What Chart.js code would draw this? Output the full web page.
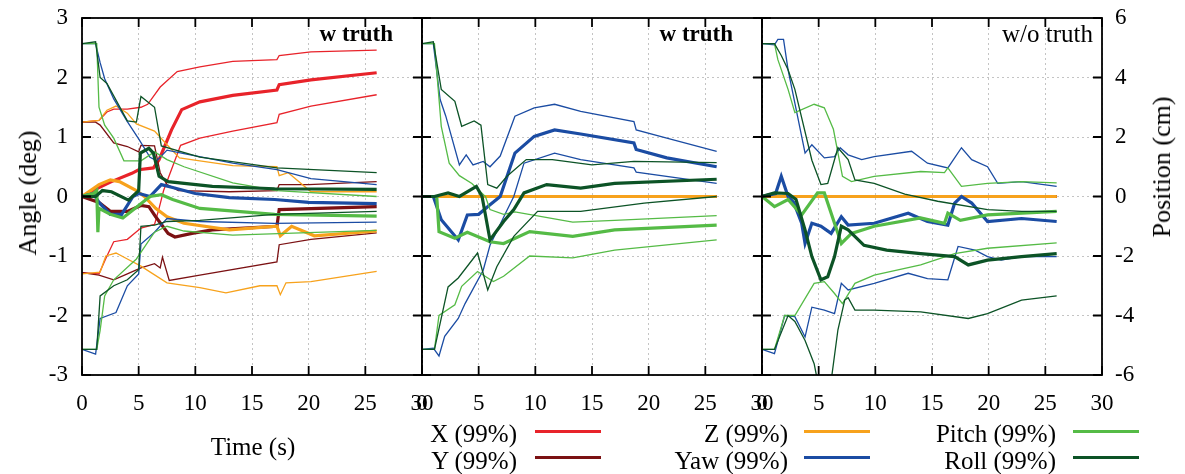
<!DOCTYPE html>
<html lang="en">
<head>
<meta charset="UTF-8">
<title>Angle and position bounds</title>
<script src="https://cdn.jsdelivr.net/npm/chart.js"></script>
<style>
  body { margin: 0; width: 1185px; height: 474px; background: #fff; position: relative; overflow: hidden;
         font-family: "Liberation Serif", "DejaVu Serif", serif; color: #000; }
  canvas.panel { position: absolute; left: 0; top: 0; }
  .lbl { position: absolute; white-space: nowrap; line-height: 30px; height: 30px; }
  .rot { position: absolute; white-space: nowrap; font-size: 26px; line-height: 30px; }
  .key { position: absolute; height: 2.5px; }
</style>
</head>
<body>
<canvas class="panel" id="c1" width="1185" height="474"></canvas>
<canvas class="panel" id="c2" width="1185" height="474"></canvas>
<canvas class="panel" id="c3" width="1185" height="474"></canvas>

<script>
// ---- axes / labels ----
const timeTicks = [0, 5, 10, 15, 20, 25, 30];
const angleTicks = [-3, -2, -1, 0, 1, 2, 3];
const posTicks = [-6, -4, -2, 0, 2, 4, 6];
const panelTitles = ['w truth', 'w truth', 'w/o truth'];
const seriesNames = ['X (99%)', 'Y (99%)', 'Z (99%)', 'Yaw (99%)', 'Pitch (99%)', 'Roll (99%)'];
const seriesColors = ['#e8232a', '#7b1113', '#f7a21c', '#1b4ca3', '#55bb46', '#0c5326'];

// ---- panel 1 (w truth): positions in cm, angles in deg, [time s, value] ----
const p1X_mean = [[0,0],[1.5,0.3],[2.6,0.5],[4.4,0.78],[5,0.9],[6.3,0.96],[6.8,1.24],[7.9,2.24],[8.8,2.92],[10.4,3.18],[13.3,3.4],[17.2,3.58],[17.4,3.76],[20.2,3.92],[26,4.16]];
const p1X_hi = [[0,2.5],[1.5,2.56],[2.2,2.84],[2.8,2.94],[4,2.94],[5.2,3.0],[5.8,3.1],[6.9,3.68],[8.4,4.2],[10.4,4.36],[13.3,4.54],[17.2,4.6],[17.4,4.74],[20.2,4.86],[26,4.92]];
const p1X_lo = [[0,-2.56],[1.5,-2.6],[2.2,-2.0],[2.8,-1.52],[4,-1.44],[5.2,-1.06],[6.4,-0.94],[6.8,-0.4],[7.2,0.2],[8.7,1.72],[10.4,1.96],[13.3,2.2],[17.2,2.48],[17.4,2.76],[20.2,3.04],[26,3.42]];
const p1Y_mean = [[0,0],[1.5,-0.2],[2.5,-0.5],[4,-0.5],[5.2,-0.3],[5.9,-0.34],[6.5,-0.68],[7.6,-1.24],[8.2,-1.36],[9.7,-1.24],[11.5,-1.12],[17.2,-1.0],[17.4,-0.44],[26,-0.34]];
const p1Y_hi = [[0,2.5],[1.2,2.5],[1.6,2.4],[2.8,1.8],[4,1.68],[5,1.5],[5.2,1.72],[6.4,1.7],[6.9,0.8],[7.5,0.4],[8.5,0.2],[13,0.16],[17.2,0.2],[17.4,0.4],[20,0.4],[26,0.5]];
const p1Y_lo = [[0,-2.56],[1.5,-2.64],[2.8,-2.8],[4,-2.6],[5.2,-2.4],[6.4,-2.26],[6.9,-2.4],[7.1,-2.04],[7.7,-2.82],[10.4,-2.64],[17.2,-2.2],[17.4,-1.62],[20.2,-1.44],[26,-1.22]];
const p1Z_mean = [[0,0],[1.5,0.4],[2.5,0.56],[3.3,0.5],[4.8,0.2],[5.5,0],[6.5,-0.4],[7.5,-0.68],[9,-0.9],[13,-1.12],[17.2,-1.0],[17.5,-1.32],[18.5,-1.0],[20.5,-1.32],[26,-1.16]];
const p1Z_hi = [[0,2.5],[1.5,2.56],[2.2,2.9],[3,3.04],[4,2.8],[4.8,2.44],[6.4,2.2],[7.5,1.74],[8.6,1.3],[10.4,1.2],[13.3,1.04],[17.2,1.0],[17.4,0.7],[18.2,0.8],[20.2,0.16],[26,0.16]];
const p1Z_lo = [[0,-2.6],[1.6,-2.54],[2.1,-2.0],[3,-1.9],[4,-2.1],[5.2,-2.34],[7.5,-2.9],[10.4,-3.06],[12.7,-3.24],[15.7,-3.0],[17.2,-3.0],[17.5,-3.3],[18,-2.9],[20.2,-2.86],[26,-2.52]];
const p1Yaw_mean = [[0,0],[1,0.05],[1.5,-0.1],[2.5,-0.3],[3.5,-0.3],[4.5,0],[5,0.05],[6,0],[7,0.2],[8,0.15],[10,0.05],[13,-0.02],[17,-0.05],[20,-0.1],[26,-0.12]];
const p1Yaw_hi = [[0,2.57],[1.2,2.57],[1.6,2.25],[2,1.98],[2.8,1.64],[4,1.26],[5,0.97],[6,0.66],[6.6,0.6],[7.5,0.78],[9,0.72],[13.3,0.56],[17.2,0.45],[20.2,0.3],[26,0.2]];
const p1Yaw_lo = [[0,-2.57],[1.2,-2.65],[1.6,-2.05],[3,-1.95],[4,-1.5],[5,-1.3],[5.2,-0.8],[6.4,-0.6],[7.5,-0.37],[10.4,-0.42],[17,-0.45],[26,-0.43]];
const p1Pitch_mean = [[0,0],[1,0.05],[1.3,0.1],[1.4,-0.6],[1.5,-0.2],[2.5,-0.3],[3.6,-0.36],[5,-0.15],[6,0],[7,0.03],[8,-0.05],[10.4,-0.2],[17,-0.3],[26,-0.33]];
const p1Pitch_hi = [[0,2.57],[1.3,2.57],[1.5,1.5],[2,1.2],[2.8,0.98],[3.7,0.6],[5.2,0.6],[6.4,0.75],[7.5,0.62],[9,0.5],[13.3,0.23],[17.2,0.1],[26,0]];
const p1Pitch_lo = [[0,-2.57],[1.3,-2.57],[1.6,-2.25],[2,-1.67],[2.8,-1.4],[4.8,-1.05],[6.4,-0.6],[7.5,-0.5],[9,-0.58],[13.3,-0.65],[26,-0.57]];
const p1Roll_mean = [[0,0],[1.2,0],[1.8,0.1],[2.6,0.08],[4.1,-0.06],[5,0.1],[5.15,0.73],[5.9,0.81],[6.3,0.73],[6.8,0.34],[7.6,0.25],[11.5,0.17],[17,0.13],[26,0.12]];
const p1Roll_hi = [[0,2.57],[1.2,2.6],[1.6,2.0],[2.2,1.9],[4,1.27],[4.8,1.25],[5.2,1.68],[6.4,1.5],[7,0.85],[10.4,0.66],[17.2,0.48],[26,0.4]];
const p1Roll_lo = [[0,-2.57],[1.3,-2.57],[1.6,-1.67],[2.8,-1.5],[4,-1.4],[5,-1.23],[5.2,-0.5],[6.4,-0.48],[7.5,-0.42],[10.4,-0.4],[17,-0.3],[26,-0.25]];

// ---- panel 2 (w truth) ----
const p2Pos_zero = [[0,0],[26,0]];
const p2Yaw_mean = [[0,0],[1,0],[1.7,-0.39],[3.2,-0.73],[4,-0.31],[5,-0.3],[6,-0.14],[6.9,0],[8.2,0.73],[9.9,1.01],[11.7,1.12],[14,1.05],[18.7,0.9],[18.9,0.79],[21.6,0.65],[26,0.5]];
const p2Yaw_hi = [[0,2.57],[1,2.57],[1.6,1.63],[2.1,1.35],[3.3,0.53],[3.9,0.7],[4.5,0.53],[5.4,0.59],[6,0.5],[6.9,0.68],[8.2,1.35],[9.9,1.49],[11.7,1.55],[14,1.43],[18.7,1.26],[18.9,1.12],[21.6,0.98],[26,0.76]];
const p2Yaw_lo = [[0,-2.57],[1,-2.55],[1.5,-2.68],[2,-2.35],[3.2,-2.05],[3.8,-1.8],[5.4,-1.24],[6,-0.82],[7.5,-0.23],[8.1,0],[9,0.56],[11.7,0.73],[14,0.62],[18.7,0.48],[18.9,0.41],[26,0.22]];
const p2Pitch_mean = [[0,0],[1.3,0],[1.5,-0.59],[2.9,-0.7],[4,-0.6],[6,-0.76],[7.2,-0.79],[9.5,-0.59],[13.3,-0.67],[17,-0.56],[26,-0.48]];
const p2Pitch_hi = [[0,2.57],[1.1,2.57],[1.7,1.18],[2.4,0.56],[3.3,0.35],[4.4,0.22],[5.6,0],[6,-0.22],[7.2,-0.3],[8.2,-0.26],[13.3,-0.43],[17,-0.4],[26,-0.32]];
const p2Pitch_lo = [[0,-2.57],[1.1,-2.57],[1.5,-2.0],[2.9,-1.82],[3.5,-1.51],[4.9,-1.26],[6.3,-1.43],[7.2,-1.34],[9.5,-1.0],[13.3,-1.03],[17,-0.9],[26,-0.73]];
const p2Roll_mean = [[0,0],[1.1,0],[2.3,0.06],[3.3,0],[4.8,0.17],[5.3,0],[6,-0.73],[7.2,-0.42],[8.1,-0.22],[9,0.06],[11,0.2],[14,0.14],[17,0.22],[26,0.29]];
const p2Roll_hi = [[0,2.57],[1,2.6],[1.7,1.8],[2.9,1.6],[3.5,1.18],[4.6,1.27],[5.2,1.2],[5.8,0.2],[6.6,0.14],[7.5,0.34],[9.2,0.62],[11.5,0.62],[15,0.53],[18.7,0.59],[26,0.57]];
const p2Roll_lo = [[0,-2.57],[1.1,-2.57],[2.3,-1.52],[3.2,-1.37],[4.9,-0.95],[5.8,-1.57],[6.6,-1.18],[8.1,-0.67],[10.2,-0.25],[14,-0.25],[19.6,-0.11],[26,0]];

// ---- panel 3 (w/o truth) ----
const p3Pos_zero = [[0,0],[26,0]];
const p3Yaw_mean = [[0,0],[1.2,0.05],[1.7,0.34],[2.3,0],[2.8,-0.1],[3.5,-0.45],[3.8,-0.79],[4.4,-0.45],[5.2,-0.5],[6.1,-0.62],[7,-0.34],[7.6,-0.48],[9.9,-0.45],[12.9,-0.28],[14.6,-0.42],[16.4,-0.48],[17,-0.11],[17.6,0],[18.5,-0.11],[19.9,-0.42],[22.9,-0.37],[26,-0.42]];
const p3Yaw_hi = [[0,2.57],[1.1,2.55],[1.4,2.64],[1.9,2.64],[2.3,2.13],[2.9,1.57],[3.8,0.73],[4.4,0.87],[5.5,0.65],[6.4,0.67],[6.9,0.82],[7.6,0.7],[8.8,0.62],[9.9,0.67],[13.2,0.76],[14.6,0.56],[16.4,0.48],[17.6,0.82],[18.5,0.62],[19.9,0.5],[20.8,0.22],[22.9,0.25],[26,0.17]];
const p3Yaw_lo = [[0,-2.57],[1.1,-2.64],[2,-2.0],[2.9,-2.02],[3.8,-2.36],[4.4,-1.86],[5.5,-1.91],[6.4,-1.97],[7,-1.46],[7.6,-1.57],[9.9,-1.46],[12.9,-1.29],[14.6,-1.38],[16.4,-1.4],[17.3,-0.84],[18.8,-0.9],[19.9,-1.01],[21.1,-1.07],[22.9,-1.01],[26,-1.01]];
const p3Pitch_mean = [[0,0],[1.1,-0.17],[2.3,-0.05],[3.5,-0.31],[4.9,0.06],[5.5,0.06],[6.4,-0.45],[7,-0.79],[7.9,-0.62],[9.9,-0.5],[14,-0.36],[16.1,-0.45],[16.4,-0.28],[17.5,-0.4],[19.9,-0.31],[26,-0.25]];
const p3Pitch_hi = [[0,2.57],[1.1,2.57],[1.4,2.3],[2.3,1.8],[2.9,1.41],[4.6,1.55],[5.5,1.49],[6.3,1.13],[7.1,0.34],[7.9,0.25],[9.9,0.34],[14,0.42],[16.1,0.4],[16.4,0.48],[17.6,0.17],[19.9,0.22],[22.9,0.25],[26,0.23]];
const p3Pitch_lo = [[0,-2.57],[1.1,-2.57],[2,-2.0],[2.9,-2.0],[4.6,-1.46],[5.5,-1.43],[6.4,-1.63],[7.1,-1.8],[8.2,-1.46],[9.9,-1.32],[14,-1.15],[17,-0.96],[19.9,-0.87],[26,-0.78]];
const p3Roll_mean = [[0,0],[1.1,0.06],[2.3,0.05],[3,-0.05],[3.8,-0.56],[4.4,-1.01],[5.2,-1.4],[5.8,-1.35],[6.4,-1.01],[7,-0.5],[7.6,-0.56],[9,-0.82],[11,-0.9],[14,-0.96],[17,-1.01],[18.2,-1.15],[19.9,-1.07],[22.9,-1.01],[26,-0.96]];
const p3Roll_hi = [[0,2.57],[1.1,2.57],[1.7,2.37],[2.3,2.13],[2.9,1.8],[4.4,0.61],[5.2,0.2],[5.8,0.22],[6.7,0.82],[7.6,0.62],[8.2,0.28],[9.9,0.22],[12.6,0.04],[15.5,-0.08],[19.9,-0.22],[22.9,-0.25],[26,-0.25]];
const p3Roll_lo = [[0,-2.57],[1.1,-2.57],[2.3,-2.0],[2.9,-2.1],[3.8,-2.42],[4.6,-2.81],[4.9,-3.1],[6.1,-3.1],[6.7,-2.24],[7.3,-1.74],[7.6,-1.7],[8.2,-1.91],[9.9,-1.91],[14,-1.94],[18.2,-2.05],[19.9,-1.97],[22.9,-1.74],[26,-1.67]];

// per panel: series -> [lo, hi, mean]
const panel1 = [
  [p1X_lo, p1X_hi, p1X_mean], [p1Y_lo, p1Y_hi, p1Y_mean], [p1Z_lo, p1Z_hi, p1Z_mean],
  [p1Yaw_lo, p1Yaw_hi, p1Yaw_mean], [p1Pitch_lo, p1Pitch_hi, p1Pitch_mean], [p1Roll_lo, p1Roll_hi, p1Roll_mean]
];
const panel2 = [
  [p2Pos_zero, p2Pos_zero, p2Pos_zero], [p2Pos_zero, p2Pos_zero, p2Pos_zero], [p2Pos_zero, p2Pos_zero, p2Pos_zero],
  [p2Yaw_lo, p2Yaw_hi, p2Yaw_mean], [p2Pitch_lo, p2Pitch_hi, p2Pitch_mean], [p2Roll_lo, p2Roll_hi, p2Roll_mean]
];
const panel3 = [
  [p3Pos_zero, p3Pos_zero, p3Pos_zero], [p3Pos_zero, p3Pos_zero, p3Pos_zero], [p3Pos_zero, p3Pos_zero, p3Pos_zero],
  [p3Yaw_lo, p3Yaw_hi, p3Yaw_mean], [p3Pitch_lo, p3Pitch_hi, p3Pitch_mean], [p3Roll_lo, p3Roll_hi, p3Roll_mean]
];

const SERIF = '"Liberation Serif", "DejaVu Serif", serif';

function buildDatasets(panel) {
  let sets = [];
  panel.forEach((lines, s) => {
    lines.forEach((pts, k) => {
      sets.push({
        data: pts.map(p => ({ x: p[0], y: p[1] })),
        borderColor: seriesColors[s],
        borderWidth: k == 2 ? 3.2 : 1.3,
        pointRadius: 0,
        fill: false,
        tension: 0,
        yAxisID: s < 3 ? 'pos' : 'y'
      });
    });
  });
  // chart.js paints dataset 0 last, so flip to keep Roll on top
  return sets.reverse();
}

// black frame with inward ticks, gnuplot style
const framePlugin = {
  id: 'frame',
  afterDatasetsDraw(chart) {
    let { ctx, chartArea: a, scales } = chart;
    ctx.save();
    ctx.strokeStyle = '#000';
    ctx.lineWidth = 1.8;
    ctx.beginPath();
    timeTicks.forEach(t => {
      let px = scales.x.getPixelForValue(t);
      ctx.moveTo(px, a.bottom); ctx.lineTo(px, a.bottom - 9);
      ctx.moveTo(px, a.top); ctx.lineTo(px, a.top + 9);
    });
    angleTicks.forEach(v => {
      let py = scales.y.getPixelForValue(v);
      ctx.moveTo(a.left, py); ctx.lineTo(a.left + 9, py);
      ctx.moveTo(a.right, py); ctx.lineTo(a.right - 9, py);
    });
    ctx.stroke();
    ctx.strokeRect(a.left, a.top, a.right - a.left, a.bottom - a.top);
    ctx.restore();
  }
};

// vertical axes: fixed width, and no extra room asked for the end labels
function fixVertical(s, w) {
  s.width = w;
  s.paddingTop = 0;
  s.paddingBottom = 0;
}

function makePanel(id, panel, left, right, idx) {
  let first = idx == 0, last = idx == 2;
  new Chart(document.getElementById(id), {
    type: 'line',
    data: { datasets: buildDatasets(panel) },
    options: {
      responsive: false,
      animation: false,
      events: [],
      layout: {
        autoPadding: false,
        padding: { left: first ? 0 : left, right: last ? 0 : 1185 - right, top: 18, bottom: 0 }
      },
      plugins: { legend: { display: false }, tooltip: { enabled: false } },
      scales: {
        x: {
          type: 'linear', min: 0, max: 30,
          afterBuildTicks: s => { s.ticks = timeTicks.map(v => ({ value: v })); },
          afterFit: s => { s.height = 99; },
          ticks: { color: '#000', font: { family: SERIF, size: 23 }, padding: 15, maxRotation: 0, autoSkip: false },
          grid: { color: '#c4c4c4', lineWidth: 1, drawTicks: false },
          border: { display: false, dash: [2, 3] }
        },
        y: {
          position: 'left', min: -3, max: 3,
          afterBuildTicks: s => { s.ticks = angleTicks.map(v => ({ value: v })); },
          afterFit: s => fixVertical(s, first ? 82 : 0),
          ticks: { display: first, color: '#000', font: { family: SERIF, size: 23 }, padding: 14 },
          grid: { color: '#c4c4c4', lineWidth: 1, drawTicks: false },
          border: { display: false, dash: [2, 3] }
        },
        pos: {
          position: 'right', min: -6, max: 6, display: last,
          afterBuildTicks: s => { s.ticks = posTicks.map(v => ({ value: v })); },
          afterFit: s => fixVertical(s, last ? 83 : 0),
          ticks: { color: '#000', font: { family: SERIF, size: 23 }, padding: 13 },
          grid: { drawOnChartArea: false, drawTicks: false },
          border: { display: false }
        }
      }
    },
    plugins: [framePlugin]
  });
}

makePanel('c1', panel1, 82, 422, 0);
makePanel('c2', panel2, 422, 762, 1);
makePanel('c3', panel3, 762, 1102, 2);

// ---- text labels and key ----
function addDiv(cls, text, css) {
  let d = document.createElement('div');
  d.className = cls;
  d.textContent = text;
  Object.assign(d.style, css);
  document.body.appendChild(d);
  return d;
}

// panel captions, right aligned
const titleRight = [393, 733, 1093];
panelTitles.forEach((t, i) => {
  addDiv('lbl', t, { right: (1185 - titleRight[i]) + 'px', top: '19px',
    fontSize: i < 2 ? '23px' : '25px', fontWeight: i < 2 ? 'bold' : 'normal' });
});

addDiv('lbl', 'Time (s)', { left: '253px', top: '432px', fontSize: '25px', transform: 'translateX(-50%)' });
addDiv('rot', 'Angle (deg)', { left: '28px', top: '193px', transform: 'translate(-50%,-50%) rotate(-90deg)' });
addDiv('rot', 'Position (cm)', { left: '1162px', top: '167px', transform: 'translate(-50%,-50%) rotate(-90deg)' });

// key: 3 columns x 2 rows, text right aligned then a line sample
const keyTextRight = [517, 788, 1056];
const keyLineLeft = [535, 804, 1073];
const keyRowText = [434, 461];
const keyRowLine = [431, 457];
seriesNames.forEach((name, i) => {
  let col = Math.floor(i / 2), row = i % 2;
  addDiv('lbl', name, { right: (1185 - keyTextRight[col]) + 'px', top: (keyRowText[row] - 15) + 'px', fontSize: '25px' });
  let ln = addDiv('key', '', { left: keyLineLeft[col] + 'px', top: (keyRowLine[row] - 1) + 'px', width: '66px' });
  ln.style.background = seriesColors[i];
});
</script>
</body>
</html>
